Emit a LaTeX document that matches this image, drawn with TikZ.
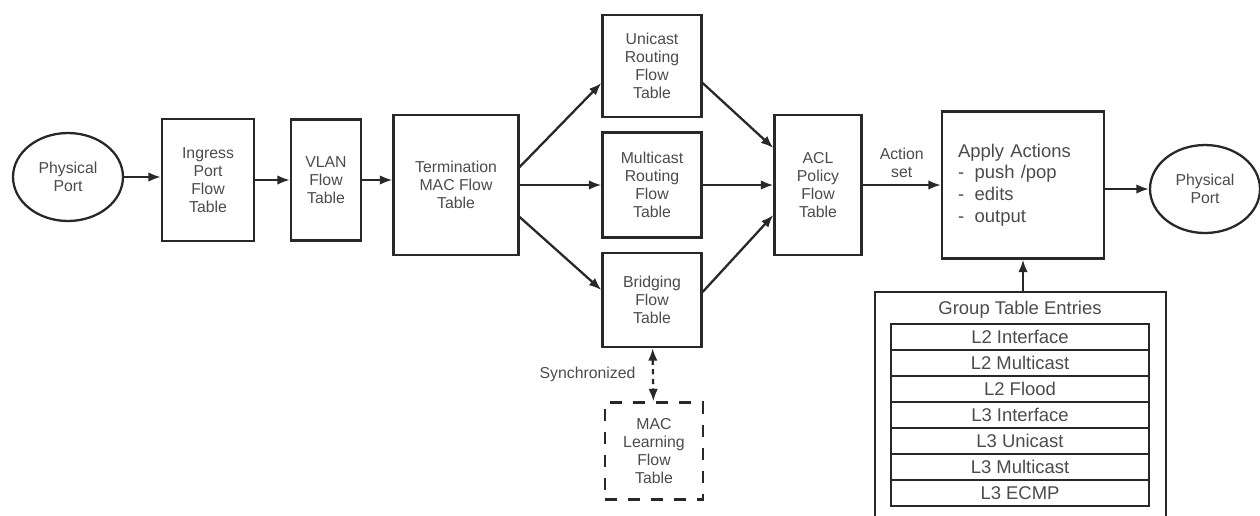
\documentclass[tikz,border=0pt]{standalone}
\usepackage{fontspec}
\setmainfont{Liberation Sans}
\usetikzlibrary{positioning}
\usetikzlibrary{arrows.meta}
\usetikzlibrary{shapes.geometric}
\definecolor{ink}{RGB}{40,40,40}
\definecolor{txt}{RGB}{75,75,75}
\newcommand{\smalltxt}{\fontsize{9}{10.3}\selectfont}
\newcommand{\bigtxt}{\fontsize{10.5}{11.6}\selectfont}

\begin{document}
\begin{tikzpicture}[x=0.02cm, y=-0.02cm, >={Latex[length=2.5mm,width=1.9mm]},
    tbl/.style={draw=ink, line width=1.3pt, align=center, text=txt, font=\smalltxt, inner sep=0pt},
    port/.style={tbl, ellipse, minimum width=2.2cm, minimum height=1.76cm},
    flow/.style={->, draw=ink, line width=1.3pt},
    entry/.style={tbl, font=\bigtxt, minimum width=5.16cm, minimum height=0.52cm}]
    \useasboundingbox (0,0) rectangle (1260,515);
    \clip (0,0) rectangle (1260,515);
    \node[port] (pin) at (68,177) {Physical\\Port};
    \node[tbl, minimum width=1.84cm, minimum height=2.44cm] (ingress) at (208,180) {Ingress\\Port\\Flow\\Table};
    \node[tbl, minimum width=1.4cm, minimum height=2.42cm] (vlan) at (326,180) {VLAN\\Flow\\Table};
    \node[tbl, minimum width=2.5cm, minimum height=2.8cm] (term) at (456,185) {Termination\\MAC Flow\\Table};
    \node[tbl, minimum width=1.98cm, minimum height=2.04cm] (uni) at (652,66) {Unicast\\Routing\\Flow\\Table};
    \node[tbl, minimum width=1.98cm, minimum height=2.1cm] (multi) at (652,185) {Multicast\\Routing\\Flow\\Table};
    \node[tbl, minimum width=1.98cm, minimum height=1.88cm] (bridge) at (652,300) {Bridging\\Flow\\Table};
    \node[tbl, dash pattern=on 0.24cm off 0.22cm, minimum width=1.96cm, minimum height=1.94cm] (maclearn) at (654,451) {MAC\\Learning\\Flow\\Table};
    \node[tbl, minimum width=1.74cm, minimum height=2.8cm] (acl) at (818,185) {ACL\\Policy\\Flow\\Table};
    \node[tbl, font=\fontsize{10.5}{12.3}\selectfont, align=left, text width=2.6cm, minimum width=3.24cm, minimum height=2.94cm] (apply) at (1023,185)
        {Apply Actions\\-\hspace{6pt}push /pop\\-\hspace{6pt}edits\\-\hspace{6pt}output};
    \node[port] (pout) at (1205,189) {Physical\\Port};
    \node[draw=ink, line width=1.3pt, minimum width=5.82cm, minimum height=4.9cm, inner sep=0pt] (group) at (1020.5,414.5) {};
    \node[text=txt, font=\bigtxt] (grouptitle) at (1020,310) {Group Table Entries};
    \foreach \lbl [count=\i] in {L2 Interface, L2 Multicast, L2 Flood, L3 Interface, L3 Unicast, L3 Multicast, L3 ECMP} {
        \node[entry] (row\i) at (1020, {311+26*\i}) {\lbl};
    }
    \draw[flow] (pin.east) -- (ingress.west |- pin.east);
    \draw[flow] (ingress) -- (vlan);
    \draw[flow] (vlan.east) -- (term.west |- vlan.east);
    \draw[flow] ([yshift=0.36cm]term.east) -- ([yshift=-0.34cm]uni.west);
    \draw[flow] (term) -- (multi);
    \draw[flow] ([yshift=-0.64cm]term.east) -- ([yshift=0.2cm]bridge.west);
    \draw[flow] ([yshift=-0.34cm]uni.east) -- ([yshift=0.74cm]acl.west);
    \draw[flow] (multi) -- (acl);
    \draw[flow] ([yshift=0.16cm]bridge.east) -- ([yshift=-0.6cm]acl.west);
    \draw[flow] (acl) -- node[above=0pt, text=txt, font=\smalltxt, align=center] {Action\\set} (apply);
    \draw[flow] (apply.east |- pout) -- (pout);
    \draw[flow] (apply.south |- group.north) -- (apply.south);
    \draw[<->, draw=ink, line width=1.3pt, dash pattern=on 3pt off 2.5pt] (bridge) -- node[left=6pt, text=txt, font=\smalltxt] {Synchronized} (maclearn);
\end{tikzpicture}
\end{document}
